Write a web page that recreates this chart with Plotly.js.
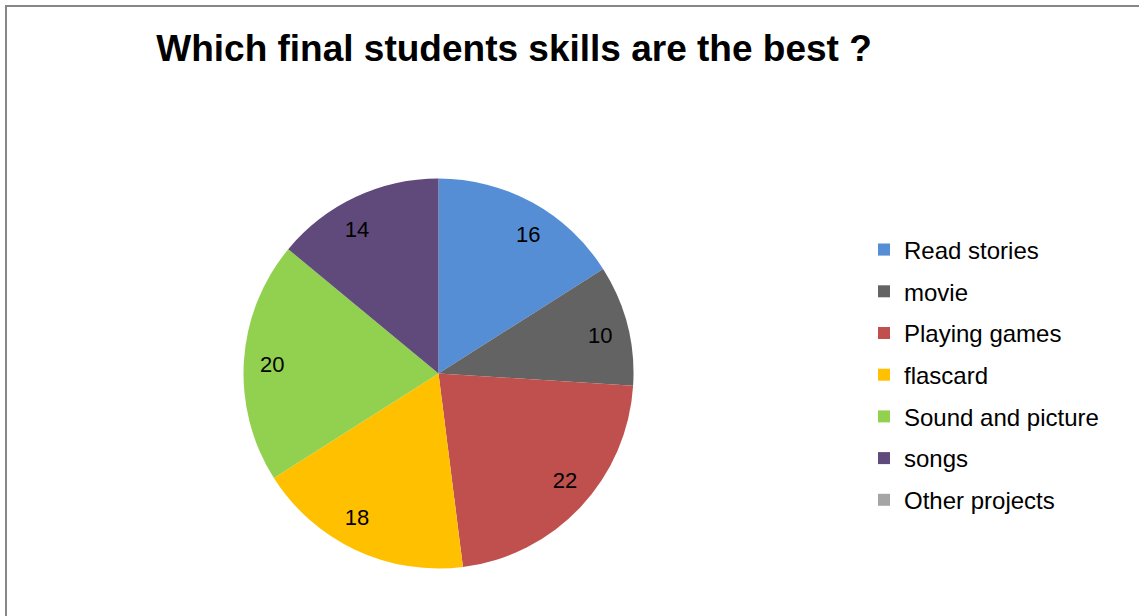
<!DOCTYPE html>
<html>
<head>
<meta charset="utf-8">
<script src="https://cdn.plot.ly/plotly-3.0.1.min.js"></script>
<style>
  html, body { margin: 0; padding: 0; background: #ffffff; }
  #chart { width: 1139px; height: 616px; }
</style>
</head>
<body>
<div id="chart"></div>
<script>
// ---- data ----
var chartTitle = 'Which final students skills are the best ?';
var categories = ['Read stories', 'movie', 'Playing games', 'flascard', 'Sound and picture', 'songs', 'Other projects'];
var values = [16, 10, 22, 18, 20, 14, 0];
var sliceColors = ['#558ED5', '#636363', '#C0504D', '#FFC000', '#92D050', '#604A7B', '#A5A5A5'];

var W = 1139, H = 616;
var cx = 438.5, cy = 373.5, r = 195, rLabel = 148;
var FONT = 'Liberation Sans, Arial, sans-serif';

function domainFor(rad) {
  return {
    x: [(cx - rad) / W, (cx + rad) / W],
    y: [(H - cy - rad) / H, (H - cy + rad) / H]
  };
}

// the pie itself
var pie = {
  type: 'pie',
  labels: categories,
  values: values,
  textinfo: 'none',
  sort: false,
  direction: 'clockwise',
  rotation: 0,
  showlegend: false,
  marker: { colors: sliceColors, line: { width: 0 } },
  domain: domainFor(r)
};

// same data on a smaller transparent pie: carries the value labels (Excel "best fit" position)
var labelPie = {
  type: 'pie',
  labels: categories,
  values: values,
  text: values.map(function (v) { return v > 0 ? String(v) : ''; }),
  textinfo: 'text',
  textposition: 'outside',
  outsidetextfont: { family: FONT, size: 22, color: '#000000' },
  sort: false,
  direction: 'clockwise',
  rotation: 0,
  showlegend: false,
  hoverinfo: 'skip',
  marker: { colors: categories.map(function () { return 'rgba(0,0,0,0)'; }), line: { width: 0 } },
  domain: domainFor(rLabel)
};

// legend entries (one per category, so the entries can be spaced like the original)
var legendTraces = categories.map(function (name, i) {
  return {
    type: 'scatter',
    mode: 'markers',
    name: name,
    x: [null],
    y: [null],
    legendgroup: 'g' + i,
    marker: { symbol: 'square', size: 12, color: sliceColors[i], line: { width: 0 } },
    hoverinfo: 'skip'
  };
});

var layout = {
  width: W,
  height: H,
  margin: { l: 0, r: 0, t: 0, b: 0 },
  paper_bgcolor: '#ffffff',
  plot_bgcolor: 'rgba(0,0,0,0)',
  font: { family: FONT, color: '#000000' },
  xaxis: { visible: false, domain: [0.99, 1] },
  yaxis: { visible: false, domain: [0.99, 1] },
  title: {
    text: '<b>' + chartTitle + '</b>',
    font: { family: FONT, size: 37, color: '#000000' },
    x: 514 / W,
    xanchor: 'center',
    xref: 'paper',
    y: 1 - 48 / H,
    yanchor: 'middle',
    yref: 'paper'
  },
  showlegend: true,
  legend: {
    x: 864 / W,
    xanchor: 'left',
    y: 1 - 375 / H,
    yanchor: 'middle',
    font: { family: FONT, size: 24, color: '#000000' },
    traceorder: 'grouped',
    tracegroupgap: 7.5,
    bgcolor: 'rgba(0,0,0,0)',
    borderwidth: 0
  },
  shapes: [{
    type: 'path',
    xref: 'paper',
    yref: 'paper',
    path: 'M ' + (6 / W) + ',-0.05 L ' + (6 / W) + ',' + (1 - 6 / H) + ' L 1.05,' + (1 - 6 / H),
    line: { color: '#878787', width: 2 }
  }]
};

Plotly.newPlot('chart', [pie, labelPie].concat(legendTraces), layout, { displayModeBar: false, staticPlot: true });
</script>
</body>
</html>
